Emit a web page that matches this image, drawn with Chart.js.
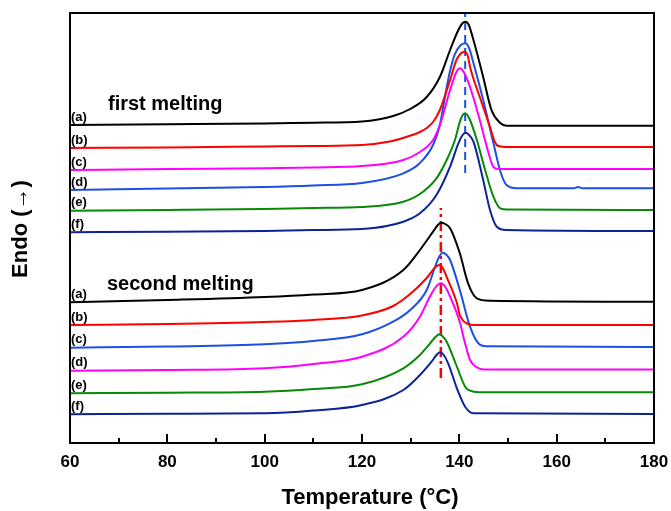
<!DOCTYPE html>
<html>
<head>
<meta charset="utf-8">
<script src="https://cdn.jsdelivr.net/npm/chart.js@4/dist/chart.umd.min.js"></script>
<style>
  html, body { margin: 0; padding: 0; background: #fff; }
  #wrap { width: 671px; height: 511px; }
</style>
</head>
<body>
<div id="wrap"><canvas id="dsc"></canvas></div>
<script>
// DSC thermograms, heat flow offset per trace (arbitrary units, endo up)
const curveLabels = ['(a)', '(b)', '(c)', '(d)', '(e)', '(f)'];

const firstA = [[60,318],[80,318.7],[100,319.5],[110,320.3],[120,321.5],[126.4,327],[129.9,334],[133.3,346],[136,366],[138.1,393],[139.8,413],[140.6,419.5],[141.2,421.3],[141.9,418.5],[142.9,403],[144.9,366],[146.6,333],[148.4,320],[149.7,317.3],[180,317.3]];
const firstB = [[60,295],[80,295.5],[100,296.5],[110,297],[120,298],[125.7,301.5],[128.4,305],[131.9,311],[133.3,315],[134.6,321],[136,333],[138.1,363],[139.4,383],[140.3,389.5],[141,391.3],[141.7,388],[142.2,376],[144.2,346],[146.3,316],[147.3,301],[148,297],[150,296],[180,296]];
const firstC = [[60,273],[80,274],[100,274.7],[110,275.5],[120,277],[128.5,283],[131.9,291],[134.6,303],[136,318],[138.1,353],[139.4,371],[140.1,374.7],[140.9,371],[142.2,356],[144.2,323],[146,290],[147,276],[148,274],[180,274]];
const firstD = [[60,253],[80,254.5],[100,256],[110,257.5],[120,260],[128.5,269.7],[131.9,280],[134.6,298],[136,318],[137,345],[138,370],[139,388],[140.2,397.5],[141.2,399.7],[142,395],[142.9,380],[144.9,343],[147,300],[148.4,272],[149.7,258],[151.8,254.7],[163.5,254.7],[164.4,256],[165.3,254.7],[180,254.7]];
const firstE = [[60,232.3],[80,233],[100,234],[110,235],[120,236],[128.5,241.3],[131.9,249],[135.3,264.7],[137.4,283],[139.1,303],[140.3,324],[141.2,329.7],[142.1,324],[143.6,303],[145.3,273],[147,246.3],[148.4,234.7],[150,233.5],[180,233]];
const firstF = [[60,210.7],[80,211.3],[100,212],[110,213],[120,214],[128.5,221.3],[131.9,229.7],[135.3,248],[138.1,276.3],[139.8,299.7],[140.6,307.5],[141.3,310.3],[142.1,307.5],[142.9,301.3],[144.9,263],[146.3,233],[147.7,216.3],[149.7,213],[180,212]];

const secondA = [[60,140.7],[80,143],[100,146],[110,148.5],[120,153],[128.5,173],[131.9,193],[134.6,211.3],[135.5,217.5],[136.2,220.3],[137.1,219],[138.1,214.7],[140.1,189.7],[141.8,159.7],[143.6,144.7],[146.3,142.3],[180,141.3]];
const secondB = [[60,118],[80,119],[100,121],[110,123],[120,127.5],[126.4,137],[129.9,149],[133.3,165],[135.1,176],[135.9,178],[136.6,175],[137.4,166],[139.5,140],[140.1,128],[141.8,119],[143,118],[180,118]];
const secondC = [[60,95.3],[80,96.5],[100,98.7],[110,102],[120,108.7],[126.4,121.3],[129.9,133],[133.3,153],[135.3,180],[136,187.5],[136.6,190.3],[137.3,188.5],[138.1,183],[140.1,153],[142.2,116.3],[143.9,99.7],[145.6,96.7],[180,96]];
const secondD = [[60,72.3],[80,73],[100,74.7],[110,79],[120,86.3],[128.5,106.3],[131.9,126.3],[133.6,143],[135,155],[136.2,159.7],[137.2,155.5],[138.1,146.3],[140.1,121],[141,103],[142.2,83],[143.5,76],[145,73.5],[180,73.5]];
const secondE = [[60,49.7],[80,50.3],[100,51.3],[110,54],[120,58.7],[128.5,74.7],[131.9,88],[134,99.7],[135.1,106],[135.9,108.7],[136.6,106.5],[137.4,101.3],[139.5,76.3],[141.2,56.3],[142.2,52.3],[144,50.8],[180,50.7]];
const secondF = [[60,28.7],[80,29.3],[100,29.7],[110,32.5],[120,38],[128.5,53],[131.9,68],[134.3,81.3],[135.3,88],[136,90.7],[136.8,88],[137.7,79.7],[139.5,54.7],[141.2,36.3],[142.9,29.7],[180,29]];

// peak temperature markers
const firstPeakLine = [[141.2,270],[141.2,430]];
const secondPeakLine = [[136.2,65],[136.2,235]];

const xTicks = [60, 80, 100, 120, 140, 160, 180];
const xMinorTicks = [70, 90, 110, 130, 150, 170];

const FONT = '"Liberation Sans", Arial, sans-serif';
const BLACK = '#000000', RED = '#ff0000', MAGENTA = '#ff00ff',
      BLUE = '#1c4fe4', GREEN = '#078a07', NAVY = '#0b2496';

const toPts = arr => arr.map(p => ({ x: p[0], y: p[1] }));

function trace(data, color, label) {
  return {
    data: toPts(data),
    curveLabel: label,
    borderColor: color,
    borderWidth: 2,
    pointRadius: 0,
    fill: false,
    cubicInterpolationMode: 'monotone'
  };
}

const datasets = [
  trace(firstA, BLACK, curveLabels[0]),
  trace(firstB, RED, curveLabels[1]),
  trace(firstC, MAGENTA, curveLabels[2]),
  trace(firstD, BLUE, curveLabels[3]),
  trace(firstE, GREEN, curveLabels[4]),
  trace(firstF, NAVY, curveLabels[5]),
  trace(secondA, BLACK, curveLabels[0]),
  trace(secondB, RED, curveLabels[1]),
  trace(secondC, BLUE, curveLabels[2]),
  trace(secondD, MAGENTA, curveLabels[3]),
  trace(secondE, GREEN, curveLabels[4]),
  trace(secondF, NAVY, curveLabels[5]),
  { data: toPts(firstPeakLine), borderColor: BLUE, borderWidth: 2, borderDash: [8, 5], pointRadius: 0 },
  { data: toPts(secondPeakLine), borderColor: RED, borderWidth: 2.5, borderDash: [10, 4, 3, 4], pointRadius: 0 }
];

// frame, inward ticks, trace labels and axis titles
const decorations = {
  id: 'decorations',
  afterDatasetsDraw(chart) {
    const { ctx, chartArea: a, scales: { x, y } } = chart;
    ctx.save();
    ctx.strokeStyle = '#000';
    ctx.lineWidth = 2;
    ctx.strokeRect(a.left, a.top, a.right - a.left, a.bottom - a.top);

    ctx.beginPath();
    xTicks.forEach(t => {
      const px = Math.round(x.getPixelForValue(t));
      ctx.moveTo(px, a.bottom); ctx.lineTo(px, a.bottom - 9);
    });
    xMinorTicks.forEach(t => {
      const px = Math.round(x.getPixelForValue(t));
      ctx.moveTo(px, a.bottom); ctx.lineTo(px, a.bottom - 5);
    });
    ctx.stroke();

    ctx.fillStyle = '#000';
    ctx.font = 'bold 13px ' + FONT;
    ctx.textBaseline = 'middle';
    ctx.textAlign = 'left';
    chart.data.datasets.forEach(ds => {
      if (!ds.curveLabel) return;
      ctx.fillText(ds.curveLabel, a.left + 1, y.getPixelForValue(ds.data[0].y) - 8);
    });

    ctx.font = 'bold 20px ' + FONT;
    ctx.fillText('first melting', 108, 104);
    ctx.fillText('second melting', 107, 284);

    ctx.textAlign = 'center';
    ctx.font = 'bold 22px ' + FONT;
    ctx.fillText('Temperature (\u00B0C)', 370, 498);

    ctx.translate(21, 229);
    ctx.rotate(-Math.PI / 2);
    ctx.fillText('Endo (\u2192)', 0, 0);
    ctx.restore();
  }
};

new Chart(document.getElementById('dsc'), {
  type: 'line',
  data: { datasets },
  options: {
    responsive: true,
    maintainAspectRatio: false,
    animation: false,
    layout: { padding: { left: 70, right: 17, top: 13, bottom: 0 } },
    plugins: { legend: { display: false }, tooltip: { enabled: false } },
    scales: {
      x: {
        type: 'linear',
        min: 60, max: 180,
        afterFit: s => { s.height = 68; s.paddingLeft = 0; s.paddingRight = 0; },
        grid: { display: false, drawTicks: false },
        border: { display: false },
        ticks: {
          stepSize: 20,
          padding: 9,
          color: '#000',
          font: { family: FONT, size: 17, weight: 'bold' }
        }
      },
      y: { display: false, min: 0, max: 430 }
    }
  },
  plugins: [decorations]
});
</script>
</body>
</html>
